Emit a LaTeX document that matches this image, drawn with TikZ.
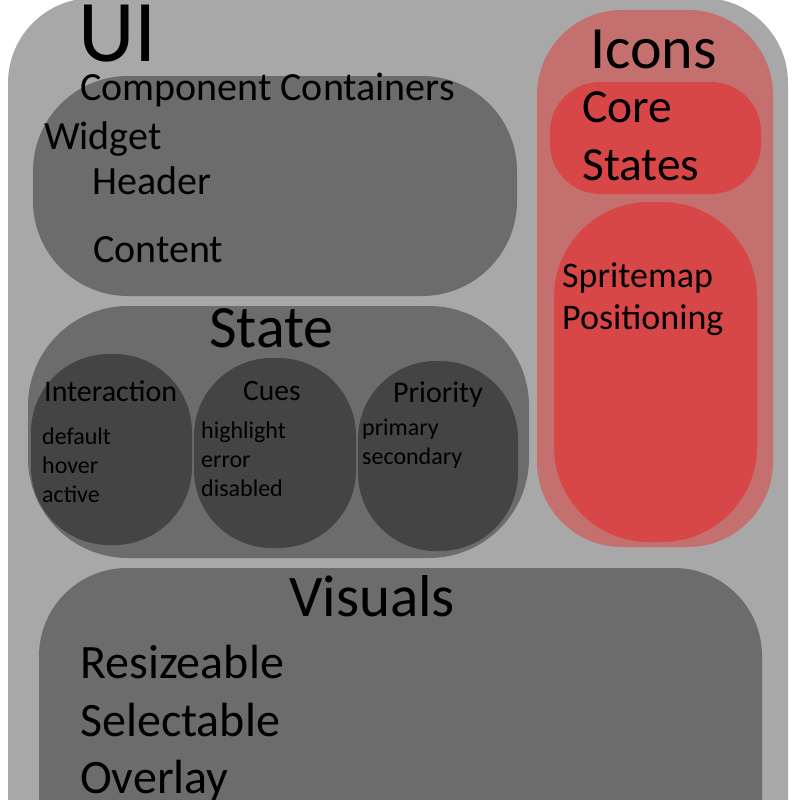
\documentclass[tikz,border=0pt]{standalone}
\usepackage{fontspec}
\setmainfont{Carlito}
\definecolor{outergray}{HTML}{A8A8A8}
\definecolor{midgray}{HTML}{6C6C6C}
\definecolor{darkgray}{HTML}{444444}
\definecolor{iconred}{HTML}{C4706F}
\definecolor{brightred}{HTML}{D84747}
\tikzset{
  lbl/.style={anchor=base west, inner sep=0pt, text=black},
  fs/.style={font=\fontsize{#1}{#1}\selectfont},
}
\begin{document}
\begin{tikzpicture}[x=1pt,y=-1pt]
\useasboundingbox (0,0) rectangle (800,800);
\clip (0,0) rectangle (800,800);
\fill[white] (0,0) rectangle (800,800);
% outer UI container
\fill[outergray, rounded corners=85pt] (8,-2) rectangle (788,900);
% component containers
\fill[midgray, rounded corners=95pt] (33,76) rectangle (517,296);
% state
\fill[midgray, rounded corners=100pt] (28,306) rectangle (529,558);
\fill[darkgray, rounded corners=78pt] (31,354) rectangle (192,545);
\fill[darkgray, rounded corners=78pt] (194,358) rectangle (356,548);
\fill[darkgray, rounded corners=78pt] (358,361) rectangle (518,551);
% icons
\fill[iconred, rounded corners=85pt] (537,10) rectangle (773,547);
\fill[brightred, rounded corners=50pt] (550,82) rectangle (761,194);
\fill[brightred, rounded corners=95pt] (554,202) rectangle (757,542);
% visuals
\fill[midgray, rounded corners=88pt] (39,568) rectangle (762,900);

% texts
\node[lbl, fs=88] (ui) at (78,62) {UI};
\node[lbl, fs=40] (cc) at (80,100) {Component Containers};
\node[lbl, fs=40] (widget) at (44,149) {Widget};
\node[lbl, fs=40] (header) at (92,194) {Header};
\node[lbl, fs=40] (content) at (93,262) {Content};

\node[lbl, fs=60] (state) at (209,347) {State};
\node[lbl, fs=30] (interaction) at (44,401) {Interaction};
\node[lbl, fs=29.5] (cues) at (243,400) {Cues};
\node[lbl, fs=30] (priority) at (393,402) {Priority};
\node[lbl, fs=24] (default) at (42,444) {default};
\node[lbl, fs=24] (hover) at (42,473) {hover};
\node[lbl, fs=24] (active) at (42,502) {active};
\node[lbl, fs=24] (highlight) at (201,438) {highlight};
\node[lbl, fs=24] (error) at (201,467) {error};
\node[lbl, fs=24] (disabled) at (201,496) {disabled};
\node[lbl, fs=24] (primary) at (362,435) {primary};
\node[lbl, fs=24] (secondary) at (362,464) {secondary};

\node[lbl, fs=60] (icons) at (590,68) {Icons};
\node[lbl, fs=47.5] (core) at (582,122) {Core};
\node[lbl, fs=47.5] (states) at (582,180) {States};
\node[lbl, fs=36] (sprite) at (562,287) {Spritemap};
\node[lbl, fs=36] (pos) at (562,329) {Positioning};

\node[lbl, fs=59] (visuals) at (289,616) {Visuals};
\node[lbl, fs=48] (resize) at (80,678) {Resizeable};
\node[lbl, fs=48] (select) at (80,736) {Selectable};
\node[lbl, fs=48] (overlay) at (80,793) {Overlay};
\end{tikzpicture}
\end{document}
